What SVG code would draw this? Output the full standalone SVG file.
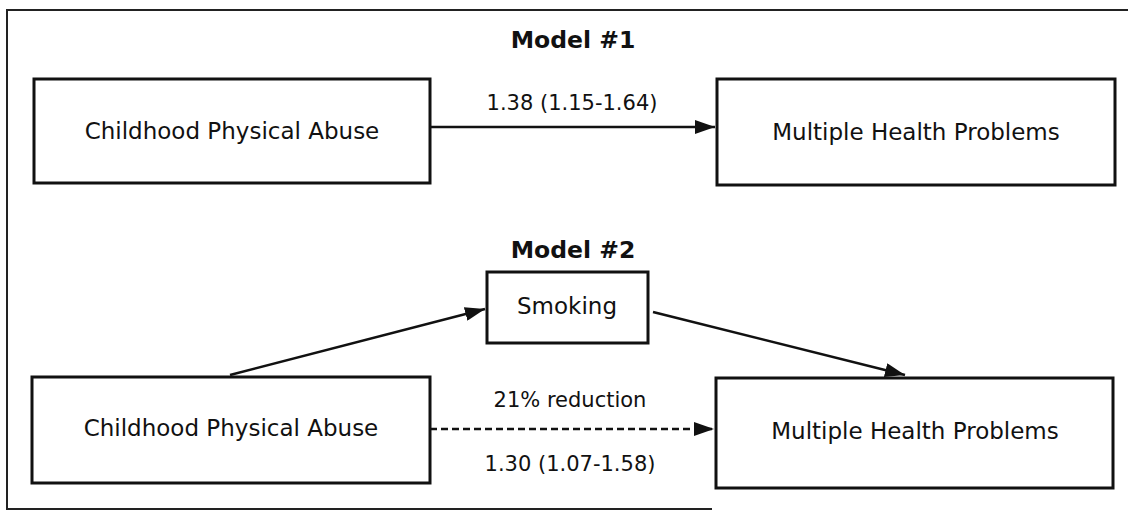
<svg xmlns="http://www.w3.org/2000/svg" width="1128" height="513" viewBox="0 0 1128 513">
  <defs>
    <style>
      .box { fill: #ffffff; stroke: #111111; stroke-width: 3; }
      .frame { fill: none; stroke: #222222; stroke-width: 2; }
      .node-text { font-family: "DejaVu Sans", Verdana, sans-serif; font-size: 23px; fill: #111111; text-anchor: middle; }
      .label { font-family: "DejaVu Sans", Verdana, sans-serif; font-size: 21px; fill: #111111; text-anchor: middle; }
      .title { font-family: "DejaVu Sans", Verdana, sans-serif; font-size: 23.5px; font-weight: bold; fill: #111111; text-anchor: middle; }
      .edge { fill: none; stroke: #111111; stroke-width: 2.5; }
      .dashed { stroke-dasharray: 7 4; }
    </style>
    <marker id="arrow" markerUnits="userSpaceOnUse" markerWidth="22" markerHeight="14" refX="20" refY="7" orient="auto">
      <path d="M0,0 L20,7 L0,14 Z" fill="#111111"/>
    </marker>
  </defs>

  <rect width="1128" height="513" fill="#ffffff"/>

  <g id="frame">
    <path class="frame" d="M1128,10 L7,10 L7,509 L712,509"/>
  </g>

  <g id="titles">
    <text class="title" x="573" y="48">Model #1</text>
    <text class="title" x="573" y="258">Model #2</text>
  </g>

  <g id="node-cpa1">
    <rect class="box" x="34" y="79" width="396" height="104"/>
    <text class="node-text" x="232" y="139">Childhood Physical Abuse</text>
  </g>
  <g id="node-mhp1">
    <rect class="box" x="717" y="79" width="398" height="106"/>
    <text class="node-text" x="916" y="140">Multiple Health Problems</text>
  </g>
  <g id="node-smoking">
    <rect class="box" x="487" y="272" width="161" height="71"/>
    <text class="node-text" x="567" y="314">Smoking</text>
  </g>
  <g id="node-cpa2">
    <rect class="box" x="32" y="377" width="398" height="106"/>
    <text class="node-text" x="231" y="436">Childhood Physical Abuse</text>
  </g>
  <g id="node-mhp2">
    <rect class="box" x="716" y="378" width="397" height="110"/>
    <text class="node-text" x="915" y="439">Multiple Health Problems</text>
  </g>

  <g id="connectors">
    <line class="edge" x1="430" y1="127" x2="715" y2="127" marker-end="url(#arrow)"/>
    <line class="edge" x1="230" y1="375" x2="485" y2="309" marker-end="url(#arrow)"/>
    <line class="edge" x1="653" y1="312" x2="905" y2="375" marker-end="url(#arrow)"/>
    <line class="edge dashed" x1="430" y1="429" x2="714" y2="429" marker-end="url(#arrow)"/>
  </g>

  <g id="edge-labels">
    <text class="label" x="572" y="110">1.38 (1.15-1.64)</text>
    <text class="label" x="570" y="407">21% reduction</text>
    <text class="label" x="570" y="471">1.30 (1.07-1.58)</text>
  </g>
</svg>
